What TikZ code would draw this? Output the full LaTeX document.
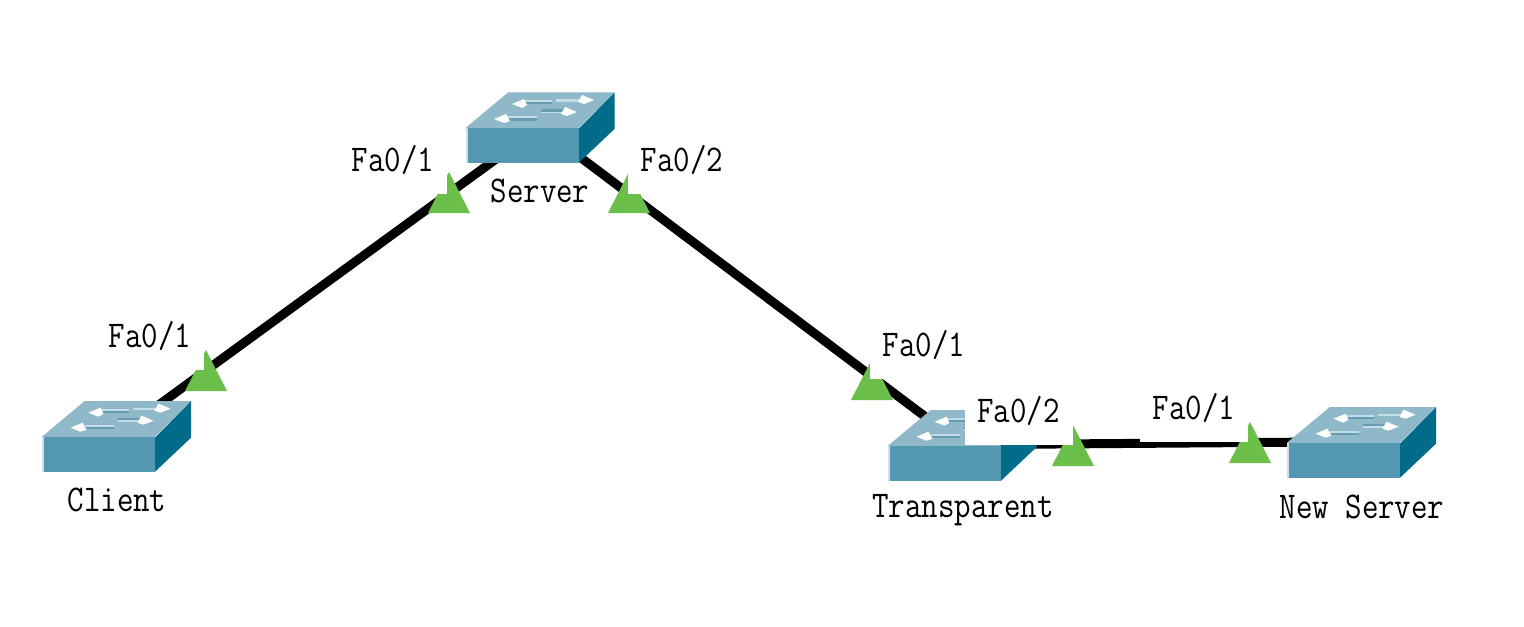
\documentclass[tikz,border=0pt]{standalone}
\usepackage{graphicx}
\definecolor{swtop}{HTML}{8FB9C9}
\definecolor{swfront}{HTML}{5398B0}
\definecolor{swside}{HTML}{006C8A}
\definecolor{swedge}{HTML}{CFE0E8}
\definecolor{swbar}{HTML}{659DB1}
\definecolor{swlight}{HTML}{C4DCE5}
\definecolor{portgreen}{HTML}{6CBE4A}
\newcommand{\lbltext}[1]{\scalebox{1}[1.18]{\fontsize{16pt}{18pt}\selectfont\ttfamily #1}}
\newcommand{\switchbody}[1]{%
  \begin{scope}[shift={(#1)}]
    \fill[swtop] (-74.5,3) -- (-74.5,1) -- (-32,-34.5) -- (74.5,-34.5) -- (38.5,1) -- (38.5,3) -- cycle;
    \fill[swside] (37.5,3) -- (74.5,-34.5) -- (74.5,2) -- (38.5,36) -- (37.5,36) -- cycle;
    \fill[swfront] (-74.5,1) rectangle (38.5,36);
    \fill[swedge] (-74.5,1) rectangle (-72.5,36);
    \draw[swlight,line width=1.5] (-16,-25.2) -- (12,-25.2);
    \draw[swbar,line width=1.1] (-16,-23.6) -- (12,-23.6);
    \draw[swlight,line width=1.2] (16,-26.5) -- (44,-26.5);
    \fill[white] (-28,-23) -- (-16,-28) -- (-13,-22) -- (-18,-19) -- cycle;
    \fill[white] (54,-27) -- (42,-32) -- (38,-25) -- (44,-23) -- cycle;
    \draw[swlight,line width=1.5] (-32,-9.2) -- (-3,-9.2);
    \draw[swbar,line width=1.1] (-32,-7.6) -- (-3,-7.6);
    \draw[swlight,line width=1.2] (1,-14.8) -- (28,-14.8);
    \draw[swbar,line width=1.1] (1,-16.4) -- (28,-16.4);
    \fill[white] (-46,-8) -- (-34,-13) -- (-30,-6) -- (-36,-4) -- cycle;
    \fill[white] (37,-15) -- (25,-20) -- (21,-13) -- (27,-11) -- cycle;
  \end{scope}}
\tikzset{
  x=0.5pt,y=-0.5pt,
  cable/.style={line width=4.5pt,black},
  port/.style={fill=portgreen},
  portlabel/.style={fill=white,inner sep=0pt,minimum width=54pt,minimum height=33.5pt,align=center},
  devlabel/.style={inner sep=0pt}
}
\begin{document}
\begin{tikzpicture}
\useasboundingbox (0,0) rectangle (1524,626);
\fill[white] (0,0) rectangle (1524,626);
\coordinate (client) at (116.5,435.7);
\coordinate (server) at (540,127);
\coordinate (transparent) at (962.5,444.7);
\coordinate (newserver) at (1361.5,441.7);
% connectors
\draw[cable] (client) -- (server);
\draw[cable] (server) -- (transparent);
\draw[cable] (transparent) -- (newserver);
% port markers
\foreach \px/\py in {206/391, 449/213, 629/213, 872/400, 1073/466, 1250/463}
  \fill[port] (\px-21,\py) -- (\px,\py-41) -- (\px+21,\py) -- cycle;
% switches
\switchbody{client}
\switchbody{server}
\switchbody{transparent}
\switchbody{newserver}
% device labels
\node[devlabel] (lclient) at (117,500) {\lbltext{Client}};
\node[devlabel] (lserver) at (540,191) {\lbltext{Server}};
\node[devlabel] (ltrans) at (963,510) {\lbltext{Transparent}};
\node[devlabel] (lnew) at (1362,507) {\lbltext{New Server}};
% port labels with white backing
\node[portlabel] (p1) at (150,336) {\lbltext{Fa0/1}};
\node[portlabel] (p2) at (393,160) {\lbltext{Fa0/1}};
\node[portlabel] (p3) at (682,160) {\lbltext{Fa0/2}};
\node[portlabel] (p4) at (924,345) {\lbltext{Fa0/1}};
\node[portlabel] (p5) at (1018.5,411) {\lbltext{Fa0/2}};
\node[portlabel] (p6) at (1194,408) {\lbltext{Fa0/1}};
\end{tikzpicture}
\end{document}
